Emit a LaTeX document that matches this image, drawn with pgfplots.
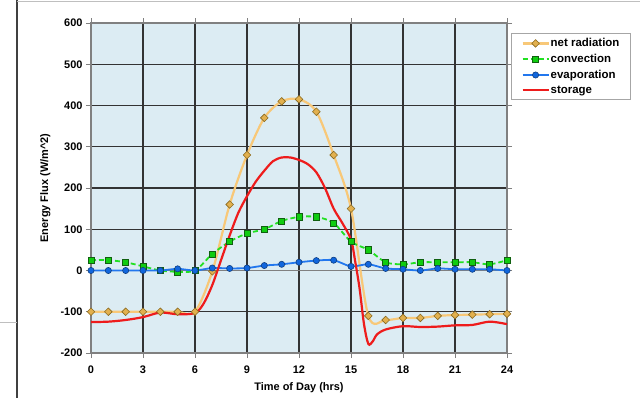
\documentclass[border=0pt]{standalone}
\usepackage{pgfplots}
\pgfplotsset{compat=1.18}
\usepackage{fontspec}
\setmainfont{Liberation Sans}
\definecolor{bgblue}{HTML}{DCECF3}
\definecolor{orL}{HTML}{F8C878}
\definecolor{orM}{HTML}{E2B04E}
\definecolor{orD}{HTML}{8A6A20}
\definecolor{grL}{HTML}{22E022}
\definecolor{grM}{HTML}{10CC10}
\definecolor{grD}{HTML}{106010}
\definecolor{blL}{HTML}{2277EE}
\definecolor{blM}{HTML}{1166DD}
\definecolor{blD}{HTML}{103F80}
\definecolor{rdL}{HTML}{EE1C1C}
\begin{document}
\begin{tikzpicture}
\useasboundingbox (0bp,0bp) rectangle (640bp,398bp);
\fill[white] (0bp,0bp) rectangle (640bp,398bp);
\draw[black!75, line width=1.2bp] (17bp,0bp) -- (17bp,398bp);
\draw[gray!50, line width=1bp] (0bp,75bp) -- (17bp,75bp);
\draw[gray!50, line width=1bp] (17bp,396.5bp) -- (640bp,396.5bp);
\begin{axis}[
  at={(91bp,45bp)}, anchor=south west, scale only axis,
  width=416bp, height=330bp,
  xmin=0, xmax=24, ymin=-200, ymax=600,
  xtick={0,3,...,24}, ytick={-200,-100,...,600},
  grid=major, major grid style={black!80, line width=1.1bp},
  axis background/.style={fill=bgblue},
  axis line style={gray, line width=1.5bp},
  tick style={gray, line width=1bp}, tick align=outside, major tick length=5bp,
  /pgf/number format/assume math mode=true,
  ticklabel style={font=\bfseries\fontsize{11}{13}\selectfont},
  xticklabel style={yshift=-4bp},
  xlabel={Time of Day (hrs)}, ylabel={Energy Flux (W/m\textasciicircum 2)},
  label style={font=\bfseries\fontsize{11}{13}\selectfont},
  xlabel style={at={(axis description cs:0.5,-0.106)}, anchor=center},
  ylabel style={at={(axis description cs:-0.11,0.5)}, anchor=center},
  legend style={at={(1.0096,0.9697)}, anchor=north west, draw=gray!70, line width=1bp,
    fill=white, font=\bfseries\fontsize{11.5}{13}\selectfont, row sep=4bp,
    inner xsep=10bp, inner ysep=4bp, nodes={inner sep=1bp}},
  legend cell align=left,
  legend image code/.code={\draw[mark repeat=2,mark phase=2,#1] plot coordinates {(0bp,0bp) (13bp,0bp) (26bp,0bp)};},
]
\draw[gray, line width=1.5bp] (axis cs:0,0) -- (axis cs:24,0);
\addplot[color=orL, line width=2.2bp, smooth, tension=0.5, mark=square*, mark size=2.7bp,
  mark options={rotate=45, fill=orM, draw=orD, line width=0.6bp, solid}] coordinates {
(0,-100) (1,-100) (2,-100) (3,-100) (4,-100) (5,-100) (6,-100) (7,-2) (8,160) (9,280)
(10,370) (11,410) (12,415) (13,385) (14,280) (15,150) (16,-110) (17,-120) (18,-115)
(19,-115) (20,-110) (21,-108) (22,-107) (23,-106) (24,-105)};
\addlegendentry{net radiation}
\addplot[color=grL, line width=1.8bp, smooth, tension=0.5, dash pattern=on 5bp off 3bp, mark=square*, mark size=3.1bp,
  mark options={fill=grM, draw=grD, line width=0.6bp, solid}] coordinates {
(0,25) (1,25) (2,20) (3,10) (4,0) (5,-3) (6,0) (7,40) (8,70) (9,90) (10,100) (11,120)
(12,130) (13,130) (14,115) (15,70) (16,50) (17,20) (18,15) (19,20) (20,20) (21,20)
(22,20) (23,15) (24,25)};
\addlegendentry{convection}
\addplot[color=blL, line width=1.8bp, smooth, tension=0.5, mark=*, mark size=3.1bp,
  mark options={fill=blM, draw=blD, line width=0.6bp, solid}] coordinates {
(0,0) (1,0) (2,0) (3,0) (4,0) (5,4) (6,0) (7,6) (8,5) (9,6) (10,12) (11,15) (12,20)
(13,24) (14,25) (15,10) (16,15) (17,5) (18,3) (19,0) (20,5) (21,3) (22,3) (23,3) (24,0)};
\addlegendentry{evaporation}
\addplot[color=rdL, line width=2.2bp, smooth, tension=0.5] coordinates {
(0,-125) (1,-124) (2,-120) (3,-113) (4,-102) (5,-106) (6,-103) (6.5,-80) (7,-35)
(7.5,25) (8,85) (8.5,140) (9,180) (9.5,215) (10,242) (10.5,265) (11,274) (11.5,274)
(12,268) (12.5,258) (13,238) (13.5,200) (14,150) (14.5,115) (15,75) (15.25,20)
(15.5,-45) (15.75,-130) (16,-178) (16.25,-172) (16.5,-155) (17,-143) (18,-135)
(19,-137) (20,-136) (21,-133) (22,-132) (23,-124) (24,-130)};
\addlegendentry{storage}
\end{axis}
\end{tikzpicture}
\end{document}
